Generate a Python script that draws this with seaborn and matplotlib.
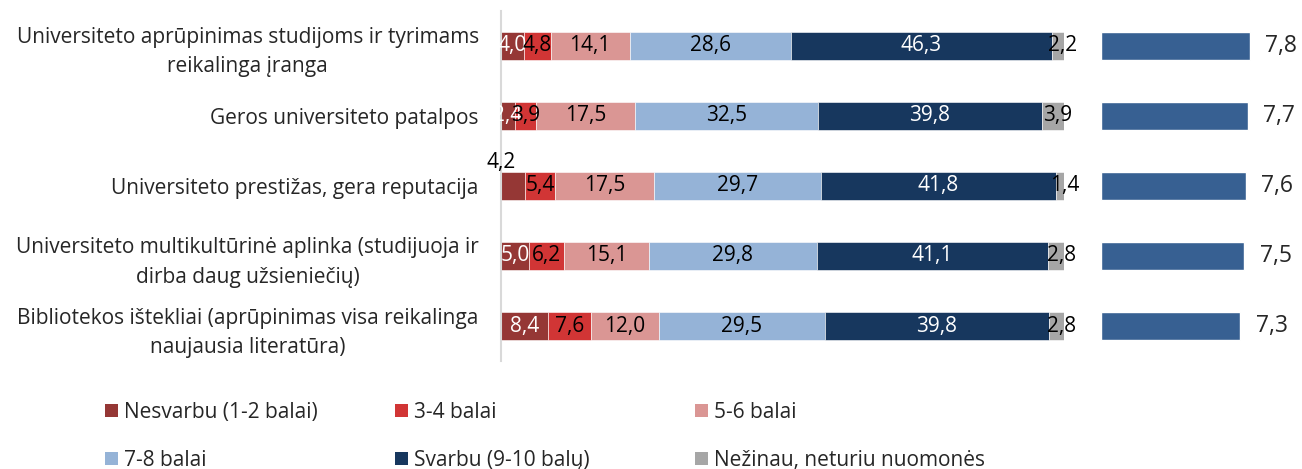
import numpy as np
import pandas as pd
import seaborn as sns
import matplotlib
matplotlib.use("Agg")
import matplotlib.pyplot as plt
from matplotlib.patches import Patch

categories = [
    "Universiteto aprūpinimas studijoms ir tyrimams\nreikalinga įranga",
    "Geros universiteto patalpos",
    "Universiteto prestižas, gera reputacija",
    "Universiteto multikultūrinė aplinka (studijuoja ir\ndirba daug užsieniečių)",
    "Bibliotekos ištekliai (aprūpinimas visa reikalinga\nnaujausia literatūra)",
]
series = ["Nesvarbu (1-2 balai)", "3-4 balai", "5-6 balai",
          "7-8 balai", "Svarbu (9-10 balų)", "Nežinau, neturiu nuomonės"]
nesvarbu = [4.0, 2.4, 4.2, 5.0, 8.4]
b34 = [4.8, 3.9, 5.4, 6.2, 7.6]
b56 = [14.1, 17.5, 17.5, 15.1, 12.0]
b78 = [28.6, 32.5, 29.7, 29.8, 29.5]
svarbu = [46.3, 39.8, 41.8, 41.1, 39.8]
nezinau = [2.2, 3.9, 1.4, 2.8, 2.8]
means = [7.8, 7.7, 7.6, 7.5, 7.3]

colors = ["#953735", "#D13535", "#DA9694", "#95B3D7", "#17375E", "#A6A6A6"]
text_colors = ["white", "black", "black", "black", "white", "black"]
mean_color = "#376092"

sns.set_theme(style="white")
plt.rcParams["font.family"] = ["Open Sans", "DejaVu Sans"]

df = pd.DataFrame(dict(zip(series, [nesvarbu, b34, b56, b78, svarbu, nezinau])))
df["kategorija"] = categories

fig = plt.figure(figsize=(13.02, 4.69), dpi=100)
ax = fig.add_axes([501 / 1302, 1 - 361 / 469, 563 / 1302, 350 / 469])
ax2 = fig.add_axes([1101 / 1302, 1 - 361 / 469, 191 / 1302, 350 / 469])

ypos = np.arange(len(categories))
left = np.zeros(len(categories))
for s, c, tc in zip(series, colors, text_colors):
    vals = df[s].values
    ax.barh(ypos, vals, left=left, height=0.4, color=c, edgecolor="white", linewidth=0.4)
    for i, v in enumerate(vals):
        lbl = f"{v:.1f}".replace(".", ",")
        cx = left[i] + v / 2
        if s == series[0] and i == 2:
            # this one sits above its short segment
            ax.text(cx - 2.0, i - 0.33, lbl, ha="center", va="center", fontsize=15, color="black")
        elif s == series[-1]:
            ax.text(cx + 0.9, i, lbl, ha="center", va="center", fontsize=15, color="black")
        else:
            ax.text(cx, i, lbl, ha="center", va="center", fontsize=15, color=tc)
    left += vals

ax.set_xlim(0, 100)
ax.set_ylim(4.5, -0.5)
ax.set_yticks(ypos)
ax.set_yticklabels(categories, fontsize=15, multialignment="center", linespacing=1.5)
ax.tick_params(axis="y", length=0, pad=16)
ax.set_xticks([])
for sp in ["top", "right", "bottom"]:
    ax.spines[sp].set_visible(False)
ax.spines["left"].set_color("#D9D9D9")
ax.spines["left"].set_linewidth(1.5)

sns.barplot(x=means, y=list(range(len(means))), orient="h", ax=ax2,
            color=mean_color, width=0.4, saturation=1, native_scale=True)
ax2.set_xlim(0, 10)
ax2.set_ylim(4.5, -0.5)
for i, m in enumerate(means):
    ax2.annotate(f"{m:.1f}".replace(".", ","), (m, i), xytext=(11, 0),
                 textcoords="offset points", ha="left", va="center", fontsize=16.5)
ax2.axis("off")

handles = [Patch(facecolor=c, edgecolor="none") for c in colors]
xs = [105, 395, 695]
for k in range(3):
    fig.legend([handles[k], handles[k + 3]], [series[k], series[k + 3]],
               loc="upper left", bbox_to_anchor=(xs[k] / 1302, 1 - 402 / 469),
               frameon=False, fontsize=15, handlelength=0.6, handleheight=0.6,
               handletextpad=0.3, labelspacing=1.3, borderaxespad=0, borderpad=0)

fig.savefig("out.png", dpi=100)
